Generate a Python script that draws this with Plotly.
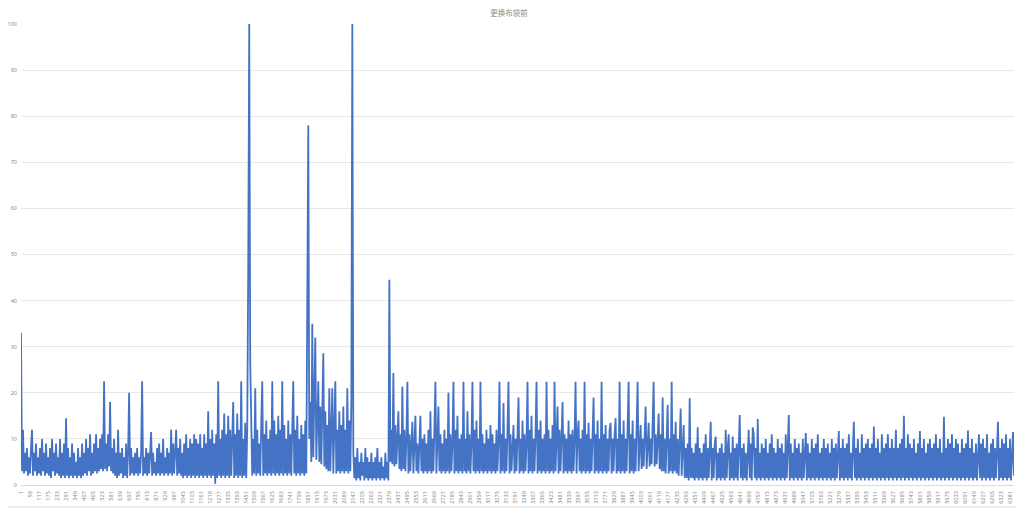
import plotly.graph_objects as go

TITLE = "更换布袋前"
RECORD_COUNT = 6408
TICK_START, TICK_STEP, TICK_END = 1, 58, 6381
Y_TICKS = [0, 10, 20, 30, 40, 50, 60, 70, 80, 90, 100]

# values, left to right, roughly one per pixel column
seg_start = [
    33, 3, 12, 2.5, 7, 3, 8, 2, 6, 2.5,
    8, 12, 2, 7, 3, 9, 2, 6, 2.5, 8,
    2, 10, 3, 7, 2, 9, 2.5, 6, 2, 8,
    1.5, 10, 3, 7, 2, 9, 2.5, 6, 2, 10,
    1.5, 7, 2, 9, 1.5, 14.5, 2, 8, 1.5, 6,
    2, 9, 1.5, 7, 2, 5, 1.5, 8, 2, 6,
    1.5, 9, 2, 7, 2.5, 10, 2, 8, 3, 11,
    2, 7, 2.5, 9, 3, 11, 2.5, 8, 3, 10,
    3.5, 11, 3, 22.5, 3.5, 9, 3, 11, 4, 18,
    3, 8, 2.5, 10, 2, 7, 1.5, 12, 2, 7,
    2.5, 8, 1.5, 6, 2, 9, 1.5, 7, 20, 2,
    8, 2.5, 6, 2, 7, 2.5, 8, 2, 6, 2.5,
    7, 22.5, 2, 6, 2.5, 8, 2, 7, 2.5, 6,
    11.5, 2, 7, 2.5, 5, 2, 8, 2.5, 9, 2,
    7, 2.5, 10, 2, 6, 2.5, 8, 2, 7, 2.5,
    12, 2, 9, 2.5, 7, 12, 2, 8, 2.5, 10,
    2, 7, 1.5, 9, 2, 11, 1.5, 8, 2, 10,
    1.5, 9, 2, 11, 1.5,
]
seg_rise = [
    10, 2, 9, 1.5, 11, 2, 8, 1.5, 11, 2,
    9, 1.5, 16, 2, 10, 1.5, 12, 2, 9, 0.3,
    11, 1.5, 22.5, 2, 10, 1.5, 12, 2, 15.5, 1.5,
    11, 2, 15, 1.5, 12, 2, 10, 18, 1.5, 11,
    2, 15.5, 1.5, 12, 2, 22.5, 1.5, 10, 2, 13.5,
    1.5, 12,
]
seg_peak1 = [
    47, 100, 26.5, 13, 2, 10, 2.5, 21, 2, 12,
    2.5, 9, 2, 13, 22.5, 2, 11, 2.5, 14, 2,
    10, 2.5, 12, 2, 22.5, 2.5, 14, 2, 11, 2.5,
    15, 2, 12, 2.5, 22.5, 2, 13, 2.5, 10, 2,
    14, 2.5, 11, 2, 13, 22.5, 2.5, 12, 2, 15,
    2.5, 10, 2, 13, 2.5, 11, 2, 14, 2.5,
]
seg_peak2 = [
    38.6, 78, 10, 18, 5, 35, 6, 16, 32, 5.5,
    14, 22.5, 5, 17, 4.5, 15, 28.6, 4, 16, 3.5,
    13, 3, 21, 3, 15, 21, 2.5, 14, 22.5, 2.5,
    12, 3, 16, 2.5, 13, 3, 17, 2.5, 12, 3,
    21, 2.5, 14, 3, 18, 100,
]
seg_gap = [
    7, 1.5, 6, 1, 8, 1.5, 5, 1, 7, 2,
    5, 1, 8, 1.5, 6, 1, 5, 1.5, 7, 1,
    5, 1.5, 6, 1, 8, 1.5, 5, 1, 6, 1.5,
    4, 1, 7, 1.5, 5, 1,
]
seg_middle = [
    44.5, 5, 12, 4.5, 24.3, 4, 13, 4.5, 10, 16,
    3.5, 11, 3, 21.3, 3.5, 12, 3, 10, 22.4, 2.5,
    11, 3, 9, 13.7, 2.5, 10, 15, 3, 9, 2.5,
    12, 15, 3, 10, 2.5, 11, 3, 9, 2.5, 12,
    3, 16, 2.5, 10, 3, 11, 22.4, 2.5, 10, 17,
    3, 11, 2.5, 9, 3, 12, 2.5, 10, 3, 20,
    2.5, 11, 3, 9, 22.4, 2.5, 12, 3, 15, 2.5,
    10, 3, 11, 2.5, 22.4, 3, 10, 2.5, 16, 3,
    11, 2.5, 9, 22.4, 3, 12, 2.5, 14, 3, 10,
    2.5, 22.4, 3, 11, 2.5, 9, 3, 12, 2.5, 10,
    3, 13, 2.5, 11, 3, 9, 2.5, 12, 3, 10,
    22.4, 2.5, 11, 3, 17.8, 2.5, 10, 3, 12, 22.4,
    2.5, 11, 3, 9, 13, 2.5, 10, 3, 12, 19,
    2.5, 10, 3, 14, 2.5, 11, 3, 9, 22.4, 2.5,
    12, 3, 15, 2.5, 10, 3, 11, 22.4, 2.5, 12,
    3, 14, 2.5, 10, 3, 11, 2.5, 22.4, 3, 12,
    2.5, 10, 3, 13, 2.5, 22.4, 3, 11, 17, 2.5,
    12, 3, 10, 18, 2.5, 11, 3, 10, 2.5, 14,
    3, 11, 2.5, 12, 3, 10, 22.4, 2.5, 11, 14,
    3, 10, 2.5, 12, 3, 22.4, 2.5, 11, 3, 13.5,
    2.5, 10, 3, 12, 19, 2.5, 11, 3, 14, 2.5,
    10, 3, 22.4, 2.5, 11, 3, 13, 2.5, 10, 3,
    12, 13.5, 2.5, 10, 3, 11, 14.5, 2.5, 10, 3,
    22.4, 2.5, 11, 3, 14, 2.5, 10, 3, 12, 22.4,
    2.5, 11, 3, 14, 2.5, 10, 3, 12, 22.4, 3,
    11, 13, 3.5, 10, 4, 12, 17, 3.5, 11, 13.5,
    4, 10, 4.5, 12, 22.4, 4, 11, 4.5, 10, 15.5,
    3.5, 11, 3, 19, 3, 10, 2.5, 12, 17.4, 2.5,
    10, 3, 22.4, 2.5, 11, 3, 13.7, 2.5, 10, 2,
    12, 16.6,
]
seg_end = [
    2, 9, 13, 1.5, 8, 1.5, 9, 1, 18.8, 1.5,
    8, 1.5, 7, 1, 9, 1.5, 12.5, 1, 8, 1.5,
    7, 1, 9, 1.5, 11, 1, 8, 1.5, 7, 13.7,
    1, 8, 1.5, 9, 10.5, 1, 7, 1.5, 8, 1,
    9, 1.5, 7, 1, 12, 1.5, 8, 11, 1, 7,
    1.5, 10.5, 1, 8, 1.5, 9, 1, 7, 15.2, 1.5,
    8, 1, 9, 1.5, 7, 1, 8, 12, 1.5, 9,
    1, 12.5, 11, 1.5, 8, 1, 14.3, 1.5, 7, 1,
    9, 1.5, 8, 1, 10, 1.5, 7, 1, 9, 1.5,
    11, 1, 8, 1.5, 7, 1, 10, 1.5, 8, 1,
    9, 1.5, 7, 1, 11, 1.5, 8, 15.2, 1, 9,
    1.5, 7, 1, 10, 1.5, 8, 1, 9, 1.5, 7,
    1, 10, 1.5, 8, 11.3, 1, 9, 1.5, 7, 1,
    10, 1.5, 8, 1, 9, 1.5, 11, 1, 7, 1.5,
    8, 1, 10, 1.5, 8, 1, 9, 1.5, 7, 1,
    10, 1.5, 8, 1, 9, 1.5, 7, 11.7, 1, 8,
    1.5, 10, 1, 8, 1.5, 9, 1, 11, 1.5, 7,
    1, 9, 13.7, 1.5, 8, 1, 10, 1.5, 7, 1,
    11, 1.5, 8, 1, 9, 1.5, 10, 1, 8, 1.5,
    9, 1, 12.7, 1.5, 8, 1, 10, 1.5, 7, 1,
    11, 1.5, 8, 1, 9, 1.5, 11, 1, 8, 1.5,
    10, 1, 8, 1.5, 12, 1, 8, 1.5, 9, 1,
    10, 1.5, 15, 1, 8, 1.5, 11, 1, 9, 1.5,
    8, 1, 10, 1.5, 7, 1, 9, 1.5, 11.7, 1,
    8, 1.5, 10, 1, 7, 1.5, 9, 1, 10, 1.5,
    8, 1, 9, 1.5, 11, 1, 8, 1.5, 10, 1,
    7, 1.5, 14.8, 1, 8, 1.5, 10, 1, 9, 1.5,
    11, 1, 8, 1.5, 10, 1, 9, 1.5, 7, 1,
    10, 1.5, 8, 1, 9, 1.5, 11.8, 1, 8, 1.5,
    10, 1, 7, 1.5, 9, 1, 8, 11, 1.5, 9,
    1, 10, 1.5, 8, 1, 11, 1.5, 7, 1, 9,
    1.5, 10, 1, 8, 1.5, 9, 13.7, 1, 8, 1.5,
    10, 1, 9, 1.5, 11, 1, 8, 1.5, 10, 1,
    9, 11.5, 2,
]

values = seg_start + seg_rise + seg_peak1 + seg_peak2 + seg_gap + seg_middle + seg_end
m = len(values)
records = [1 + i * (RECORD_COUNT - 1) / (m - 1) for i in range(m)]

tickvals = list(range(TICK_START, TICK_END + 1, TICK_STEP))
ticktext = [str(v) for v in tickvals]

LABEL_COLOR = "#8c8c8c"

# page body has an 8px margin, so the figure is sized to fit inside the window
FIG_W, FIG_H = 1016, 502
M_L, M_T, M_R, M_B = 13, 16, 10, 25
PLOT_W = FIG_W - M_L - M_R
PLOT_H = FIG_H - M_T - M_B

fig = go.Figure()
fig.add_trace(go.Scatter(
    x=records, y=values, mode="lines",
    line=dict(color="#4472C4", width=1.8),
    hoverinfo="skip", showlegend=False,
))

fig.update_layout(
    width=FIG_W, height=FIG_H,
    margin=dict(l=M_L, r=M_R, t=M_T, b=M_B, pad=0),
    paper_bgcolor="white", plot_bgcolor="white",
    title=dict(text=TITLE, x=(509 - 8) / FIG_W, xref="container", y=1 - 5.5 / FIG_H, yref="container",
               xanchor="center", yanchor="middle",
               font=dict(family="Noto Sans CJK SC", size=7.5, color=LABEL_COLOR)),
    xaxis=dict(
        range=[1, RECORD_COUNT], tickmode="array", tickvals=tickvals, ticktext=ticktext,
        tickangle=-90, tickfont=dict(family="Noto Sans", size=5.5, color=LABEL_COLOR),
        showgrid=False, zeroline=False, showline=True, linecolor="#d9d9d9", linewidth=1,
        ticks="", ticklabelstandoff=3, automargin=False,
    ),
    yaxis=dict(
        range=[0, 100], tickmode="array", tickvals=Y_TICKS,
        tickfont=dict(family="Noto Sans", size=5.5, color=LABEL_COLOR),
        showgrid=True, gridcolor="#e8e8e8", gridwidth=1, zeroline=False, showline=False,
        ticks="", ticklabelstandoff=3, automargin=False,
    ),
    shapes=[dict(type="rect", xref="paper", yref="paper",
                 x0=-0.05, x1=(1010 - M_L) / PLOT_W,
                 y0=-(499 - (M_T + PLOT_H)) / PLOT_H, y1=1.2,
                 line=dict(color="#dcdcdc", width=1), fillcolor="rgba(0,0,0,0)", layer="below")],
)

fig.write_html("out.html")
